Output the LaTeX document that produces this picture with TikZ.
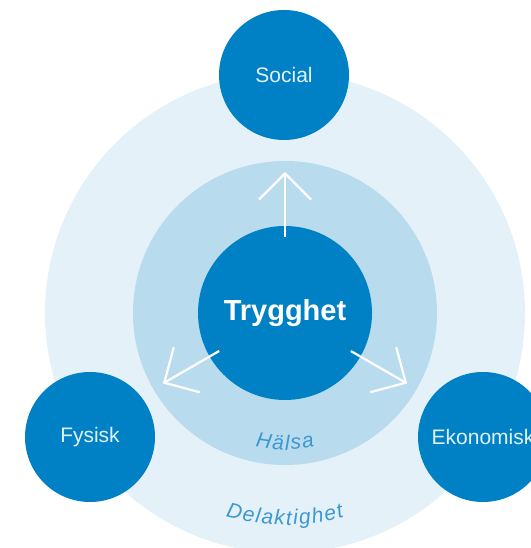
\documentclass[tikz,border=0pt]{standalone}
\usepackage{fontspec}
\setmainfont{Liberation Sans}
\usepackage{xcolor}
\usetikzlibrary{arrows.meta,decorations.text}
\definecolor{darkblue}{HTML}{0081C6}
\definecolor{midring}{HTML}{B9DBEE}
\definecolor{outring}{HTML}{E4F1F9}
\definecolor{ringtext}{HTML}{3D98D2}
\definecolor{areatext}{HTML}{E2F2FB}
\newcommand{\ringfont}{\itshape\fontsize{21}{25}\selectfont}

\begin{document}
\begin{tikzpicture}[
    x=1pt, y=1pt,
    ring/.style={circle, inner sep=0pt},
    area/.style={circle, fill=darkblue, minimum size=130pt, inner sep=0pt, text=areatext, font=\fontsize{21}{25}\selectfont},
    arrow/.style={white, line width=2.2pt, -{Straight Barb[length=26pt,width=52pt]}, shorten <=76pt},
    ringlabel/.style={decoration={text effects along path, text={#1}, text align=center,
        text effects/.cd, text along path,
        characters={text=ringtext, font=\ringfont, inner sep=0pt},
        character widths={inner xsep=0.75pt, font=\ringfont}}, decorate}
]
    \useasboundingbox (0,0) rectangle (530,548);
    \node[ring, fill=outring, minimum size=480pt] (delaktighet) at (285,235) {};
    \node[ring, fill=midring, minimum size=304pt] (halsa) at (285,235) {};
    \node[ring, fill=darkblue, minimum size=174pt, text=white, font=\bfseries\fontsize{29}{34}\selectfont] (core) at (285,235) {Trygghet};

    \coordinate (tipS) at ([shift={(90:141)}]core.center);
    \coordinate (tipF) at ([shift={(210:141)}]core.center);
    \coordinate (tipE) at ([shift={(330:141)}]core.center);
    \draw[arrow] (core.center) -- (tipS);
    \draw[arrow] (core.center) -- (tipF);
    \draw[arrow] (core.center) -- (tipE);

    % ring names follow the arcs
    \path[ringlabel=Hälsa] ([shift={(200:137)}]core.center) arc[start angle=200, end angle=340, radius=137];
    \path[ringlabel=Delaktighet] ([shift={(215:212)}]core.center) arc[start angle=215, end angle=325, radius=212];

    \node[area] (social) at (284,473) {Social};
    \node[area] (fysisk) at (90,111) {Fysisk};
    \node[area] (ekonomisk) at (483,111) {Ekonomisk};
\end{tikzpicture}
\end{document}
